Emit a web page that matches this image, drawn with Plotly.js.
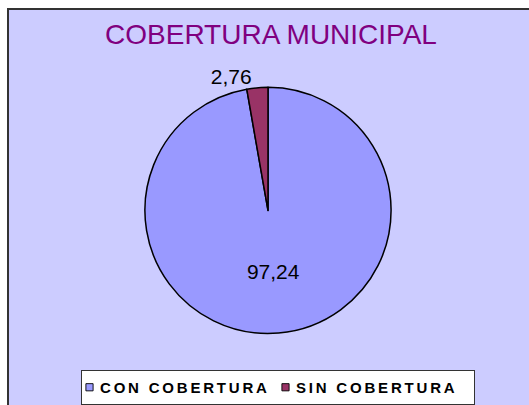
<!DOCTYPE html>
<html>
<head>
<meta charset="utf-8">
<script src="https://cdn.plot.ly/plotly-3.0.1.min.js"></script>
<style>
html,body{margin:0;padding:0;background:#fff;}
#chart{width:529px;height:405px;}
.legendtext{letter-spacing:2.8px;transform:translateX(-22px);}
.legendpie{transform:translate(7.5px,0px) scale(0.6);}
</style>
</head>
<body>
<div id="chart"></div>
<script>
const categories = ["CON COBERTURA", "SIN COBERTURA"];
const values = [97.24, 2.76];
const sliceColors = ["#9999ff", "#993366"];
const titleText = "COBERTURA MUNICIPAL";

const W = 529, H = 405;
const trace = {
  type: "pie",
  labels: categories,
  values: values,
  sort: false,
  direction: "clockwise",
  rotation: 0,
  marker: {colors: sliceColors, line: {color: "#000", width: 1.5}},
  texttemplate: "%{value:.2f}",
  textposition: ["inside", "outside"],
  textfont: {family: "Liberation Sans, Arial, sans-serif", size: 21, color: "#000"},
  insidetextorientation: "horizontal",
  hoverinfo: "none",
  domain: {x: [144/W, 392/W], y: [1-336/H, 1-88/H]}
};

const layout = {
  width: W, height: H,
  margin: {l: 0, r: 0, t: 0, b: 0},
  paper_bgcolor: "#ffffff",
  separators: ",.",
  title: {
    text: titleText,
    font: {family: "Liberation Sans, Arial, sans-serif", size: 28, color: "#800080"},
    x: 271/W, xanchor: "center", y: 1-34/H, yanchor: "middle"
  },
  showlegend: true,
  legend: {
    orientation: "h",
    x: 81/W, xanchor: "left",
    y: 1-373/H, yanchor: "top",
    bgcolor: "#ffffff",
    bordercolor: "#333333",
    borderwidth: 1,
    font: {family: "Liberation Sans, Arial, sans-serif", size: 15, color: "#000", weight: "bold"},
    itemwidth: 30,
    entrywidth: 151
  },
  shapes: [{
    type: "rect", xref: "paper", yref: "paper", layer: "below",
    x0: 8/W, x1: 1.02, y0: -0.02, y1: 1-9/H,
    fillcolor: "#ccccff", line: {color: "#333333", width: 2}
  }]
};

Plotly.newPlot("chart", [trace], layout, {displayModeBar: false, staticPlot: true});
</script>
</body>
</html>
